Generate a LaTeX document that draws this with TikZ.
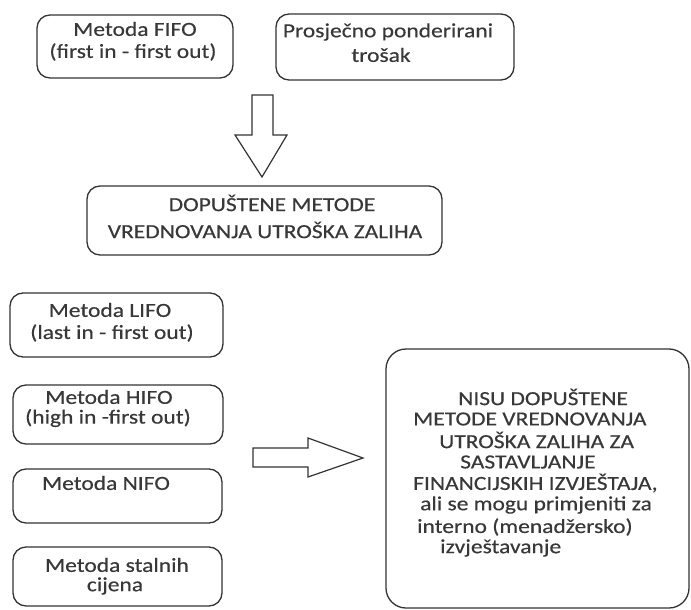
\documentclass[tikz,border=0pt]{standalone}
\usepackage{fontspec}
\setmainfont{Carlito}[FakeStretch=1.175,FakeBold=0.4]
\begin{document}
\begin{tikzpicture}[x=1pt,y=-1pt,
  box/.style={draw=black!80, line width=1.3pt, rounded corners=13pt},
  txt/.style={inner sep=0pt, font=\fontsize{20}{23}\selectfont, text=black!78},
  ltxt/.style={txt, anchor=west},
  blockarrow/.style={draw=black!80, line width=1.2pt, fill=white, line join=miter}]
\useasboundingbox (0,0) rectangle (691,610);
% top boxes
\draw[box] (37,15) rectangle (233,78) node[pos=0.5] (fifo) {};
\draw[box] (276,14) rectangle (514,80) node[pos=0.5] (prosj) {};
\node[txt] (t1) at (135,29) {Metoda FIFO};
\node[txt] (t2) at (133,52) {(first in - first out)};
\node[txt] (t3) at (388,32) {Prosječno ponderirani};
\node[txt] (t4) at (381,55) {trošak};
% down arrow
\draw[blockarrow] (252,95) -- (273,95) -- (273,135) -- (287,135) -- (262,177) -- (235,135) -- (252,135) -- cycle;
% middle box
\draw[box] (87,186) rectangle (442,255) node[pos=0.5] (dop) {};
\node[txt] (t5) at (272,203) {DOPUŠTENE METODE};
\node[txt] (t6) at (265,230) {VREDNOVANJA UTROŠKA ZALIHA};
% left column
\draw[box] (10,293) rectangle (223,357) node[pos=0.5] (lifo) {};
\node[txt] (t7) at (110,310) {Metoda LIFO};
\node[txt] (t8) at (112,333) {(last in - first out)};
\draw[box] (13,385) rectangle (223,444) node[pos=0.5] (hifo) {};
\node[txt] (t9) at (109,397) {Metoda HIFO};
\node[txt] (t10) at (108,418) {(high in -first out)};
\draw[box] (13,469) rectangle (222,523) node[pos=0.5] (nifo) {};
\node[txt] (t11) at (106,483) {Metoda NIFO};
\draw[box] (13,547) rectangle (222,606) node[pos=0.5] (stal) {};
\node[txt] (t12) at (117,565) {Metoda stalnih};
\node[txt] (t13) at (115,586) {cijena};
% right arrow
\draw[blockarrow] (253,448) -- (308,448) -- (308,438) -- (363,458) -- (308,477) -- (308,467) -- (253,467) -- cycle;
% big box
\draw[box, rounded corners=20pt] (386,349) rectangle (689,608) node[pos=0.5] (nisu) {};
\node[ltxt] (n1) at (458,397) {NISU DOPUŠTENE};
\node[ltxt] (n2) at (413,419) {METODE VREDNOVANJA};
\node[ltxt] (n3) at (439,440) {UTROŠKA ZALIHA ZA};
\node[ltxt] (n4) at (460,462) {SASTAVLJANJE};
\node[ltxt] (n5) at (413,483) {FINANCIJSKIH IZVJEŠTAJA,};
\node[ltxt] (n6) at (420,505) {ali se mogu primjeniti za};
\node[ltxt] (n7) at (417,527) {interno (menadžersko)};
\node[ltxt] (n8) at (440,548) {izvještavanje};
\end{tikzpicture}
\end{document}
